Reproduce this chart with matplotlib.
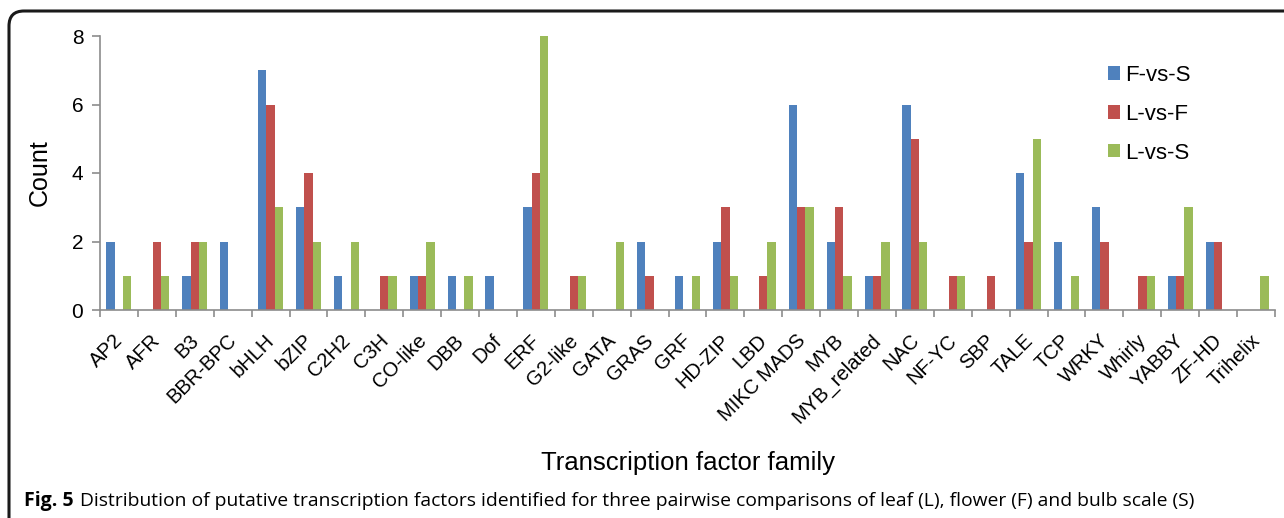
import numpy as np
import matplotlib.pyplot as plt
from matplotlib.patches import FancyBboxPatch

plt.rcParams['font.family'] = ['Liberation Sans', 'DejaVu Sans']

families = ['AP2', 'AFR', 'B3', 'BBR-BPC', 'bHLH', 'bZIP', 'C2H2', 'C3H', 'CO-like',
            'DBB', 'Dof', 'ERF', 'G2-like', 'GATA', 'GRAS', 'GRF', 'HD-ZIP', 'LBD',
            'MIKC MADS', 'MYB', 'MYB_related', 'NAC', 'NF-YC', 'SBP', 'TALE', 'TCP',
            'WRKY', 'Whirly', 'YABBY', 'ZF-HD', 'Trihelix']
f_vs_s = [2, 0, 1, 2, 7, 3, 1, 0, 1, 1, 1, 3, 0, 0, 2, 1, 2, 0, 6, 2, 1, 6, 0, 0, 4, 2, 3, 0, 1, 2, 0]
l_vs_f = [0, 2, 2, 0, 6, 4, 0, 1, 1, 0, 0, 4, 1, 0, 1, 0, 3, 1, 3, 3, 1, 5, 1, 1, 2, 0, 2, 1, 1, 2, 0]
l_vs_s = [1, 1, 2, 0, 3, 2, 2, 1, 2, 1, 0, 8, 1, 2, 0, 1, 1, 2, 3, 1, 2, 2, 1, 0, 5, 1, 0, 1, 3, 0, 1]

series = [('F-vs-S', f_vs_s, '#4F81BD'),
          ('L-vs-F', l_vs_f, '#C0504D'),
          ('L-vs-S', l_vs_s, '#9BBB59')]

W, H = 1284, 518
fig = plt.figure(figsize=(W / 100, H / 100), dpi=100)
ax = fig.add_axes([100 / W, 1 - 310 / H, 1175 / W, 274 / H])

x = np.arange(len(families))
bw = 0.22
for i, (name, vals, col) in enumerate(series):
    ax.bar(x + (i - 1) * bw, vals, width=bw, color=col, label=name, zorder=2)

axis_col = '#8c8c8c'
ax.set_xlim(-0.5, len(families) - 0.5)
ax.set_ylim(0, 8)
ax.set_yticks([0, 2, 4, 6, 8])
# group boundaries carry the tick marks, the names sit just left of each group centre
ax.set_xticks(np.arange(len(families) + 1) - 0.5)
ax.set_xticklabels([])
ax.set_xticks(x - 0.15, minor=True)
ax.set_xticklabels(families, minor=True, rotation=45, ha='right', va='top',
                   rotation_mode='anchor', fontsize=14.5)
ax.tick_params(axis='x', which='minor', length=0, pad=15)
ax.tick_params(axis='x', which='major', length=5, color=axis_col, width=1.2)
ax.tick_params(axis='y', length=6, color=axis_col, width=1.2, labelsize=15, pad=6)
for side in ['top', 'right']:
    ax.spines[side].set_visible(False)
for side in ['left', 'bottom']:
    ax.spines[side].set_color(axis_col)
    ax.spines[side].set_linewidth(1.2)

ax.set_ylabel('Count', fontsize=18, labelpad=14)
fig.text(688 / W, 1 - 463 / H, 'Transcription factor family', fontsize=18.5,
         ha='center', va='center')

ax.legend(loc='upper left', bbox_to_anchor=(1088 / W, 1 - 45 / H),
          bbox_transform=fig.transFigure, frameon=False, fontsize=16,
          handlelength=0.55, handleheight=0.55, handletextpad=0.2, labelspacing=0.8)

# rounded frame around the figure panel (units in inches)
frame = FancyBboxPatch((0.09, -0.4), 13.2, (H - 11) / 100 + 0.4,
                       boxstyle='round,pad=0,rounding_size=0.15',
                       transform=fig.dpi_scale_trans, fill=False, edgecolor='#1a1a1a',
                       linewidth=2.2, clip_on=False)
fig.patches.append(frame)

fig.text(24 / W, 1 - 501 / H, 'Fig. 5', fontsize=14, fontweight='bold',
         family=['Open Sans', 'DejaVu Sans'], va='center', ha='left')
fig.text(80 / W, 1 - 501 / H,
         'Distribution of putative transcription factors identified for three pairwise '
         'comparisons of leaf (L), flower (F) and bulb scale (S)',
         fontsize=13.9, family=['Open Sans', 'DejaVu Sans'], va='center', ha='left')

fig.savefig('out.png', dpi=100)
